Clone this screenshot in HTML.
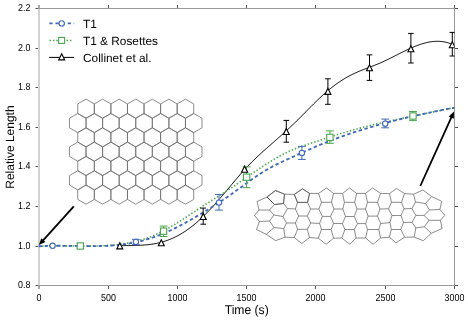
<!DOCTYPE html><html><head><meta charset="utf-8"><style>html,body{margin:0;padding:0;background:#fff;width:468px;height:320px;overflow:hidden}svg{display:block;will-change:transform}text{font-family:"Liberation Sans",sans-serif;text-rendering:geometricPrecision}</style></head><body>
<svg width="468" height="320" viewBox="0 0 468 320">
<path d="M86.03,99.15 L77.76,103.92 L77.76,113.48 L86.03,118.25 L94.31,113.48 L94.31,103.92Z M102.60,99.15 L94.33,103.92 L94.33,113.48 L102.60,118.25 L110.88,113.48 L110.88,103.92Z M119.17,99.15 L110.90,103.92 L110.90,113.48 L119.17,118.25 L127.45,113.48 L127.45,103.92Z M135.75,99.15 L127.47,103.92 L127.47,113.48 L135.75,118.25 L144.02,113.48 L144.02,103.92Z M152.31,99.15 L144.04,103.92 L144.04,113.48 L152.31,118.25 L160.59,113.48 L160.59,103.92Z M168.88,99.15 L160.61,103.92 L160.61,113.48 L168.88,118.25 L177.16,113.48 L177.16,103.92Z M185.45,99.15 L177.18,103.92 L177.18,113.48 L185.45,118.25 L193.73,113.48 L193.73,103.92Z M77.75,113.48 L69.48,118.25 L69.48,127.80 L77.75,132.58 L86.02,127.80 L86.02,118.25Z M94.32,113.48 L86.05,118.25 L86.05,127.80 L94.32,132.58 L102.59,127.80 L102.59,118.25Z M110.89,113.48 L102.62,118.25 L102.62,127.80 L110.89,132.58 L119.16,127.80 L119.16,118.25Z M127.46,113.48 L119.19,118.25 L119.19,127.80 L127.46,132.58 L135.73,127.80 L135.73,118.25Z M144.03,113.48 L135.76,118.25 L135.76,127.80 L144.03,132.58 L152.30,127.80 L152.30,118.25Z M160.60,113.48 L152.33,118.25 L152.33,127.80 L160.60,132.58 L168.87,127.80 L168.87,118.25Z M177.17,113.48 L168.90,118.25 L168.90,127.80 L177.17,132.58 L185.44,127.80 L185.44,118.25Z M193.74,113.48 L185.47,118.25 L185.47,127.80 L193.74,132.58 L202.01,127.80 L202.01,118.25Z M86.03,127.80 L77.76,132.57 L77.76,142.12 L86.03,146.90 L94.31,142.12 L94.31,132.57Z M102.60,127.80 L94.33,132.57 L94.33,142.12 L102.60,146.90 L110.88,142.12 L110.88,132.57Z M119.17,127.80 L110.90,132.57 L110.90,142.12 L119.17,146.90 L127.45,142.12 L127.45,132.57Z M135.75,127.80 L127.47,132.57 L127.47,142.12 L135.75,146.90 L144.02,142.12 L144.02,132.57Z M152.31,127.80 L144.04,132.57 L144.04,142.12 L152.31,146.90 L160.59,142.12 L160.59,132.57Z M168.88,127.80 L160.61,132.57 L160.61,142.12 L168.88,146.90 L177.16,142.12 L177.16,132.57Z M185.45,127.80 L177.18,132.57 L177.18,142.12 L185.45,146.90 L193.73,142.12 L193.73,132.57Z M77.75,142.12 L69.48,146.90 L69.48,156.45 L77.75,161.23 L86.02,156.45 L86.02,146.90Z M94.32,142.12 L86.05,146.90 L86.05,156.45 L94.32,161.23 L102.59,156.45 L102.59,146.90Z M110.89,142.12 L102.62,146.90 L102.62,156.45 L110.89,161.23 L119.16,156.45 L119.16,146.90Z M127.46,142.12 L119.19,146.90 L119.19,156.45 L127.46,161.23 L135.73,156.45 L135.73,146.90Z M144.03,142.12 L135.76,146.90 L135.76,156.45 L144.03,161.23 L152.30,156.45 L152.30,146.90Z M160.60,142.12 L152.33,146.90 L152.33,156.45 L160.60,161.23 L168.87,156.45 L168.87,146.90Z M177.17,142.12 L168.90,146.90 L168.90,156.45 L177.17,161.23 L185.44,156.45 L185.44,146.90Z M193.74,142.12 L185.47,146.90 L185.47,156.45 L193.74,161.23 L202.01,156.45 L202.01,146.90Z M86.03,156.45 L77.76,161.22 L77.76,170.78 L86.03,175.55 L94.31,170.78 L94.31,161.22Z M102.60,156.45 L94.33,161.22 L94.33,170.78 L102.60,175.55 L110.88,170.78 L110.88,161.22Z M119.17,156.45 L110.90,161.22 L110.90,170.78 L119.17,175.55 L127.45,170.78 L127.45,161.22Z M135.75,156.45 L127.47,161.22 L127.47,170.78 L135.75,175.55 L144.02,170.78 L144.02,161.22Z M152.31,156.45 L144.04,161.22 L144.04,170.78 L152.31,175.55 L160.59,170.78 L160.59,161.22Z M168.88,156.45 L160.61,161.22 L160.61,170.78 L168.88,175.55 L177.16,170.78 L177.16,161.22Z M185.45,156.45 L177.18,161.22 L177.18,170.78 L185.45,175.55 L193.73,170.78 L193.73,161.22Z M77.75,170.77 L69.48,175.55 L69.48,185.10 L77.75,189.88 L86.02,185.10 L86.02,175.55Z M94.32,170.77 L86.05,175.55 L86.05,185.10 L94.32,189.88 L102.59,185.10 L102.59,175.55Z M110.89,170.77 L102.62,175.55 L102.62,185.10 L110.89,189.88 L119.16,185.10 L119.16,175.55Z M127.46,170.77 L119.19,175.55 L119.19,185.10 L127.46,189.88 L135.73,185.10 L135.73,175.55Z M144.03,170.77 L135.76,175.55 L135.76,185.10 L144.03,189.88 L152.30,185.10 L152.30,175.55Z M160.60,170.77 L152.33,175.55 L152.33,185.10 L160.60,189.88 L168.87,185.10 L168.87,175.55Z M177.17,170.77 L168.90,175.55 L168.90,185.10 L177.17,189.88 L185.44,185.10 L185.44,175.55Z M193.74,170.77 L185.47,175.55 L185.47,185.10 L193.74,189.88 L202.01,185.10 L202.01,175.55Z M86.03,185.10 L77.76,189.88 L77.76,199.43 L86.03,204.20 L94.31,199.43 L94.31,189.88Z M102.60,185.10 L94.33,189.88 L94.33,199.43 L102.60,204.20 L110.88,199.43 L110.88,189.88Z M119.17,185.10 L110.90,189.88 L110.90,199.43 L119.17,204.20 L127.45,199.43 L127.45,189.88Z M135.75,185.10 L127.47,189.88 L127.47,199.43 L135.75,204.20 L144.02,199.43 L144.02,189.88Z M152.31,185.10 L144.04,189.88 L144.04,199.43 L152.31,204.20 L160.59,199.43 L160.59,189.88Z M168.88,185.10 L160.61,189.88 L160.61,199.43 L168.88,204.20 L177.16,199.43 L177.16,189.88Z M185.45,185.10 L177.18,189.88 L177.18,199.43 L185.45,204.20 L193.73,199.43 L193.73,189.88Z" fill="none" stroke="#707070" stroke-width="0.8"/>
<path d="M302.5,188.8L294.3,194.4 M302.5,188.8L309.6,193.4 M294.3,194.4L297.5,202.4 M309.6,193.4L307.5,202.4 M297.5,202.4L295.4,209.0 M307.5,202.4L310.6,209.0 M295.4,209.0L298.7,216.0 M310.6,209.0L307.4,216.0 M298.7,216.0L295.4,223.0 M307.4,216.0L310.7,223.0 M295.4,223.0L297.6,229.3 M310.7,223.0L307.4,229.3 M297.6,229.3L294.3,237.6 M307.4,229.3L309.4,237.6 M297.5,202.4L307.5,202.4 M298.7,216.0L307.4,216.0 M297.6,229.3L307.4,229.3 M294.3,237.6L301.8,243.5 M309.4,237.6L301.8,243.5 M326.5,188.0L318.5,193.4 M326.5,188.0L333.5,193.4 M318.5,193.4L321.5,202.3 M333.5,193.4L331.5,202.3 M321.5,202.3L318.8,209.0 M331.5,202.3L334.0,209.0 M318.8,209.0L322.3,216.4 M334.0,209.0L330.5,216.4 M322.3,216.4L319.6,223.4 M330.5,216.4L333.6,223.4 M319.6,223.4L321.5,229.5 M333.6,223.4L331.1,229.5 M321.5,229.5L318.3,238.2 M331.1,229.5L333.6,238.2 M321.5,202.3L331.5,202.3 M322.3,216.4L330.5,216.4 M321.5,229.5L331.1,229.5 M318.3,238.2L326.1,244.3 M333.6,238.2L326.1,244.3 M349.6,187.9L342.6,193.4 M349.6,187.9L356.6,193.4 M342.6,193.4L344.4,202.3 M356.6,193.4L354.7,202.3 M344.4,202.3L342.8,209.0 M354.7,202.3L357.0,209.0 M342.8,209.0L345.5,216.5 M357.0,209.0L354.3,216.5 M345.5,216.5L342.4,223.6 M354.3,216.5L357.4,223.6 M342.4,223.6L344.9,229.5 M357.4,223.6L354.3,229.5 M344.9,229.5L341.8,238.0 M354.3,229.5L356.1,238.0 M344.4,202.3L354.7,202.3 M345.5,216.5L354.3,216.5 M344.9,229.5L354.3,229.5 M341.8,238.0L349.9,244.3 M356.1,238.0L349.9,244.3 M372.5,187.9L365.5,193.4 M372.5,187.9L380.5,193.4 M365.5,193.4L367.5,202.3 M380.5,193.4L377.5,202.3 M367.5,202.3L365.5,209.0 M377.5,202.3L380.0,209.0 M365.5,209.0L368.1,216.1 M380.0,209.0L377.5,216.1 M368.1,216.1L365.6,223.6 M377.5,216.1L380.6,223.6 M365.6,223.6L367.5,229.5 M380.6,223.6L378.8,229.5 M367.5,229.5L365.6,238.0 M378.8,229.5L380.6,238.0 M367.5,202.3L377.5,202.3 M368.1,216.1L377.5,216.1 M367.5,229.5L378.8,229.5 M365.6,238.0L373.1,244.3 M380.6,238.0L373.1,244.3 M396.5,188.4L389.5,193.6 M396.5,188.4L404.5,193.6 M389.5,193.6L391.5,202.3 M404.5,193.6L401.5,202.3 M391.5,202.3L388.5,208.8 M401.5,202.3L404.0,208.8 M388.5,208.8L391.9,215.5 M404.0,208.8L401.0,215.5 M391.9,215.5L390.0,222.5 M401.0,215.5L403.5,222.5 M390.0,222.5L391.3,229.5 M403.5,222.5L400.9,229.5 M391.3,229.5L389.4,237.2 M400.9,229.5L404.6,237.2 M391.5,202.3L401.5,202.3 M391.9,215.5L401.0,215.5 M391.3,229.5L400.9,229.5 M389.4,237.2L396.0,242.8 M404.6,237.2L396.0,242.8 M309.6,193.4L318.5,193.4 M310.6,209.0L318.8,209.0 M310.7,223.0L319.6,223.4 M309.4,237.6L318.3,238.2 M333.5,193.4L342.6,193.4 M334.0,209.0L342.8,209.0 M333.6,223.4L342.4,223.6 M333.6,238.2L341.8,238.0 M356.6,193.4L365.5,193.4 M357.0,209.0L365.5,209.0 M357.4,223.6L365.6,223.6 M356.1,238.0L365.6,238.0 M380.5,193.4L389.5,193.6 M380.0,209.0L388.5,208.8 M380.6,223.6L390.0,222.5 M380.6,238.0L389.4,237.2 M257.0,201.5L267.0,197.0 M267.0,197.0L275.5,190.5 M275.5,190.5L284.5,194.2 M284.5,194.2L294.3,194.4 M267.0,197.0L274.5,204.5 M274.5,204.5L283.5,203.5 M284.5,194.2L283.5,203.5 M283.5,203.5L287.5,208.5 M287.5,208.5L295.4,209.0 M274.5,204.5L269.5,210.0 M269.5,210.0L259.0,210.0 M259.0,210.0L257.0,201.5 M259.0,210.0L254.5,215.5 M254.5,215.5L259.5,221.5 M269.5,210.0L274.0,215.0 M274.0,215.0L283.0,216.5 M287.5,208.5L283.0,216.5 M283.0,216.5L286.5,223.0 M286.5,223.0L295.4,223.0 M274.0,215.0L269.5,221.0 M259.5,221.5L269.5,221.0 M269.5,221.0L274.0,227.5 M286.5,223.0L283.8,228.6 M274.0,227.5L283.8,228.6 M283.8,228.6L285.0,237.2 M285.0,237.2L294.3,237.6 M274.0,227.5L266.3,234.3 M259.5,221.5L256.5,229.5 M256.5,229.5L266.3,234.3 M266.3,234.3L275.5,240.7 M275.5,240.7L285.0,237.2 M404.5,193.6L413.5,194.2 M413.5,194.2L423.0,190.0 M423.0,190.0L431.6,196.5 M413.5,194.2L415.5,202.0 M415.5,202.0L425.5,203.5 M431.6,196.5L425.5,203.5 M415.5,202.0L412.0,208.6 M404.0,208.8L412.0,208.6 M425.5,203.5L429.5,210.0 M412.0,208.6L415.8,215.4 M429.5,210.0L424.0,215.4 M415.8,215.4L424.0,215.4 M415.8,215.4L412.1,222.3 M403.5,222.5L412.1,222.3 M424.0,215.4L429.0,220.3 M412.1,222.3L415.8,227.9 M429.0,220.3L424.4,226.8 M415.8,227.9L424.4,226.8 M415.8,227.9L414.2,237.1 M404.6,237.2L414.2,237.1 M424.4,226.8L431.3,233.3 M414.2,237.1L423.3,240.7 M423.3,240.7L431.3,233.3 M431.6,196.5L441.7,201.3 M441.7,201.3L439.9,209.4 M429.5,210.0L439.9,209.4 M439.9,209.4L444.8,215.4 M444.8,215.4L440.4,220.3 M429.0,220.3L440.4,220.3 M440.4,220.3L442.1,228.5 M431.3,233.3L442.1,228.5" fill="none" stroke="#5a5a5a" stroke-width="0.7" stroke-linejoin="round"/>
<path d="M302.5,188.8L294.3,194.4 M302.5,188.8L309.6,193.4 M294.3,194.4L297.5,202.4 M309.6,193.4L307.5,202.4 M297.5,202.4L307.5,202.4 M267.0,197.0L275.5,190.5 M275.5,190.5L284.5,194.2 M284.5,194.2L283.5,203.5 M283.5,203.5L274.5,204.5" fill="none" stroke="#505050" stroke-width="0.7" stroke-linejoin="round"/>
<path d="M267.0,197.0L274.5,204.5" fill="none" stroke="#333" stroke-width="0.8"/>
<rect x="38" y="8" width="2" height="278" fill="#d2d2d2"/>
<line x1="38" y1="8.5" x2="455" y2="8.5" stroke="#9a9a9a" stroke-width="1"/>
<line x1="38" y1="285.5" x2="455" y2="285.5" stroke="#9a9a9a" stroke-width="1"/>
<line x1="454.5" y1="8" x2="454.5" y2="286" stroke="#9a9a9a" stroke-width="1"/>
<path d="M35.5,285.5 H38 M455,285.5 H458 M35.5,246.5 H38 M455,246.5 H458 M35.5,206.5 H38 M455,206.5 H458 M35.5,166.5 H38 M455,166.5 H458 M35.5,127.5 H38 M455,127.5 H458 M35.5,87.5 H38 M455,87.5 H458 M35.5,48.5 H38 M455,48.5 H458 M35.5,8.5 H38 M455,8.5 H458 M39.0,286 V289 M39.0,8 V5 M108.5,286 V289 M108.5,8 V5 M177.5,286 V289 M177.5,8 V5 M246.5,286 V289 M246.5,8 V5 M315.5,286 V289 M315.5,8 V5 M385.5,286 V289 M385.5,8 V5 M454.5,286 V289 M454.5,8 V5" stroke="#555" stroke-width="1" fill="none"/>
<text transform="translate(30.5,288.40) scale(0.882,1)" font-size="10.10" text-anchor="end" fill="#000">0.8</text>
<text transform="translate(30.5,249.40) scale(0.882,1)" font-size="10.10" text-anchor="end" fill="#000">1.0</text>
<text transform="translate(30.5,209.40) scale(0.882,1)" font-size="10.10" text-anchor="end" fill="#000">1.2</text>
<text transform="translate(30.5,169.40) scale(0.882,1)" font-size="10.10" text-anchor="end" fill="#000">1.4</text>
<text transform="translate(30.5,130.40) scale(0.882,1)" font-size="10.10" text-anchor="end" fill="#000">1.6</text>
<text transform="translate(30.5,90.40) scale(0.882,1)" font-size="10.10" text-anchor="end" fill="#000">1.8</text>
<text transform="translate(30.5,51.40) scale(0.882,1)" font-size="10.10" text-anchor="end" fill="#000">2.0</text>
<text transform="translate(30.5,11.40) scale(0.882,1)" font-size="10.10" text-anchor="end" fill="#000">2.2</text>
<text transform="translate(38.90,300.60) scale(0.882,1)" font-size="10.10" text-anchor="middle" fill="#000">0</text>
<text transform="translate(108.50,300.60) scale(0.882,1)" font-size="10.10" text-anchor="middle" fill="#000">500</text>
<text transform="translate(177.50,300.60) scale(0.882,1)" font-size="10.10" text-anchor="middle" fill="#000">1000</text>
<text transform="translate(246.50,300.60) scale(0.882,1)" font-size="10.10" text-anchor="middle" fill="#000">1500</text>
<text transform="translate(315.50,300.60) scale(0.882,1)" font-size="10.10" text-anchor="middle" fill="#000">2000</text>
<text transform="translate(385.50,300.60) scale(0.882,1)" font-size="10.10" text-anchor="middle" fill="#000">2500</text>
<text transform="translate(454.50,300.60) scale(0.882,1)" font-size="10.10" text-anchor="middle" fill="#000">3000</text>
<text transform="translate(246.7,313.6) scale(0.964,1)" font-size="12.6" text-anchor="middle" fill="#000">Time (s)</text>
<text transform="translate(13.5,147.1) rotate(-90)" x="0" y="0" font-size="12.0" text-anchor="middle" fill="#000">Relative Length</text>
<line x1="73.80" y1="206.30" x2="42.65" y2="240.84" stroke="#000" stroke-width="1.80"/><path d="M38.90,245.00 L41.24,238.22 L45.40,241.97 Z" fill="#000"/>
<line x1="420.30" y1="186.00" x2="451.69" y2="116.70" stroke="#000" stroke-width="1.80"/><path d="M454.00,111.60 L453.83,118.77 L448.73,116.46 Z" fill="#000"/>
<defs><clipPath id="pc"><rect x="36" y="0" width="418.6" height="290"/></clipPath></defs><g clip-path="url(#pc)">
<path d="M119.80,245.70 L120.80,245.67 L121.80,245.65 L122.80,245.63 L123.80,245.61 L124.80,245.59 L125.80,245.58 L126.80,245.56 L127.80,245.55 L128.80,245.53 L129.80,245.52 L130.80,245.51 L131.80,245.49 L132.80,245.47 L133.80,245.45 L134.80,245.43 L135.80,245.41 L136.80,245.38 L137.80,245.34 L138.80,245.31 L139.80,245.27 L140.80,245.22 L141.80,245.16 L142.80,245.10 L143.80,245.04 L144.80,244.96 L145.80,244.88 L146.80,244.79 L147.80,244.69 L148.80,244.58 L149.80,244.47 L150.80,244.34 L151.80,244.20 L152.80,244.05 L153.80,243.89 L154.80,243.72 L155.80,243.53 L156.80,243.34 L157.80,243.12 L158.80,242.90 L159.80,242.66 L160.80,242.41 L161.80,242.14 L162.80,241.85 L163.80,241.55 L164.80,241.23 L165.80,240.90 L166.80,240.55 L167.80,240.19 L168.80,239.81 L169.80,239.41 L170.80,239.00 L171.80,238.57 L172.80,238.13 L173.80,237.67 L174.80,237.19 L175.80,236.70 L176.80,236.19 L177.80,235.66 L178.80,235.11 L179.80,234.55 L180.80,233.97 L181.80,233.38 L182.80,232.77 L183.80,232.14 L184.80,231.49 L185.80,230.83 L186.80,230.14 L187.80,229.44 L188.80,228.73 L189.80,227.99 L190.80,227.24 L191.80,226.47 L192.80,225.68 L193.80,224.88 L194.80,224.05 L195.80,223.21 L196.80,222.35 L197.80,221.47 L198.80,220.57 L199.80,219.66 L200.80,218.73 L201.80,217.78 L202.80,216.82 L203.80,215.84 L204.80,214.85 L205.80,213.85 L206.80,212.83 L207.80,211.80 L208.80,210.75 L209.80,209.70 L210.80,208.63 L211.80,207.55 L212.80,206.46 L213.80,205.36 L214.80,204.25 L215.80,203.13 L216.80,202.00 L217.80,200.87 L218.80,199.72 L219.80,198.57 L220.80,197.41 L221.80,196.25 L222.80,195.08 L223.80,193.91 L224.80,192.73 L225.80,191.54 L226.80,190.36 L227.80,189.16 L228.80,187.97 L229.80,186.78 L230.80,185.58 L231.80,184.38 L232.80,183.19 L233.80,182.00 L234.80,180.81 L235.80,179.62 L236.80,178.44 L237.80,177.27 L238.80,176.10 L239.80,174.94 L240.80,173.79 L241.80,172.66 L242.80,171.53 L243.80,170.42 L244.80,169.32 L245.80,168.24 L246.80,167.17 L247.80,166.12 L248.80,165.08 L249.80,164.06 L250.80,163.04 L251.80,162.04 L252.80,161.06 L253.80,160.08 L254.80,159.11 L255.80,158.15 L256.80,157.21 L257.80,156.27 L258.80,155.33 L259.80,154.41 L260.80,153.49 L261.80,152.58 L262.80,151.68 L263.80,150.78 L264.80,149.89 L265.80,148.99 L266.80,148.11 L267.80,147.22 L268.80,146.34 L269.80,145.46 L270.80,144.58 L271.80,143.70 L272.80,142.83 L273.80,141.95 L274.80,141.07 L275.80,140.19 L276.80,139.31 L277.80,138.43 L278.80,137.54 L279.80,136.66 L280.80,135.77 L281.80,134.88 L282.80,133.98 L283.80,133.08 L284.80,132.18 L285.80,131.27 L286.80,130.35 L287.80,129.43 L288.80,128.51 L289.80,127.58 L290.80,126.64 L291.80,125.69 L292.80,124.74 L293.80,123.78 L294.80,122.81 L295.80,121.84 L296.80,120.85 L297.80,119.86 L298.80,118.87 L299.80,117.87 L300.80,116.86 L301.80,115.86 L302.80,114.84 L303.80,113.83 L304.80,112.82 L305.80,111.80 L306.80,110.79 L307.80,109.77 L308.80,108.76 L309.80,107.75 L310.80,106.74 L311.80,105.74 L312.80,104.74 L313.80,103.74 L314.80,102.75 L315.80,101.77 L316.80,100.80 L317.80,99.83 L318.80,98.87 L319.80,97.92 L320.80,96.99 L321.80,96.06 L322.80,95.14 L323.80,94.24 L324.80,93.35 L325.80,92.47 L326.80,91.61 L327.80,90.76 L328.80,89.92 L329.80,89.10 L330.80,88.29 L331.80,87.49 L332.80,86.71 L333.80,85.94 L334.80,85.19 L335.80,84.45 L336.80,83.72 L337.80,83.01 L338.80,82.32 L339.80,81.64 L340.80,80.97 L341.80,80.32 L342.80,79.68 L343.80,79.06 L344.80,78.45 L345.80,77.86 L346.80,77.29 L347.80,76.73 L348.80,76.19 L349.80,75.66 L350.80,75.15 L351.80,74.65 L352.80,74.16 L353.80,73.69 L354.80,73.22 L355.80,72.77 L356.80,72.33 L357.80,71.90 L358.80,71.47 L359.80,71.06 L360.80,70.65 L361.80,70.24 L362.80,69.84 L363.80,69.45 L364.80,69.06 L365.80,68.67 L366.80,68.29 L367.80,67.91 L368.80,67.52 L369.80,67.14 L370.80,66.76 L371.80,66.37 L372.80,65.99 L373.80,65.60 L374.80,65.20 L375.80,64.81 L376.80,64.40 L377.80,63.99 L378.80,63.58 L379.80,63.15 L380.80,62.72 L381.80,62.28 L382.80,61.83 L383.80,61.37 L384.80,60.90 L385.80,60.43 L386.80,59.95 L387.80,59.47 L388.80,58.98 L389.80,58.48 L390.80,57.99 L391.80,57.49 L392.80,56.98 L393.80,56.48 L394.80,55.97 L395.80,55.46 L396.80,54.95 L397.80,54.45 L398.80,53.94 L399.80,53.43 L400.80,52.93 L401.80,52.43 L402.80,51.94 L403.80,51.44 L404.80,50.95 L405.80,50.47 L406.80,49.99 L407.80,49.52 L408.80,49.06 L409.80,48.60 L410.80,48.15 L411.80,47.71 L412.80,47.28 L413.80,46.86 L414.80,46.45 L415.80,46.05 L416.80,45.67 L417.80,45.29 L418.80,44.93 L419.80,44.58 L420.80,44.25 L421.80,43.93 L422.80,43.62 L423.80,43.33 L424.80,43.06 L425.80,42.81 L426.80,42.57 L427.80,42.35 L428.80,42.15 L429.80,41.97 L430.80,41.81 L431.80,41.67 L432.80,41.55 L433.80,41.46 L434.80,41.38 L435.80,41.33 L436.80,41.30 L437.80,41.30 L438.80,41.32 L439.80,41.37 L440.80,41.44 L441.80,41.54 L442.80,41.67 L443.80,41.83 L444.80,42.01 L445.80,42.22 L446.80,42.46 L447.80,42.74 L448.80,43.04 L449.80,43.38 L450.80,43.74 L451.80,44.14 L452.30,44.35" fill="none" stroke="#000" stroke-width="1"/>
<path d="M38.75,246.31 L39.75,246.24 L40.75,246.19 L41.75,246.14 L42.75,246.09 L43.75,246.04 L44.75,246.00 L45.75,245.97 L46.75,245.94 L47.75,245.91 L48.75,245.88 L49.75,245.86 L50.75,245.84 L51.75,245.83 L52.75,245.81 L53.75,245.80 L54.75,245.79 L55.75,245.79 L56.75,245.79 L57.75,245.79 L58.75,245.79 L59.75,245.79 L60.75,245.80 L61.75,245.80 L62.75,245.81 L63.75,245.82 L64.75,245.83 L65.75,245.84 L66.75,245.86 L67.75,245.87 L68.75,245.89 L69.75,245.90 L70.75,245.92 L71.75,245.93 L72.75,245.95 L73.75,245.97 L74.75,245.98 L75.75,246.00 L76.75,246.01 L77.75,246.03 L78.75,246.04 L79.75,246.06 L80.75,246.07 L81.75,246.08 L82.75,246.09 L83.75,246.10 L84.75,246.11 L85.75,246.12 L86.75,246.12 L87.75,246.12 L88.75,246.12 L89.75,246.12 L90.75,246.12 L91.75,246.11 L92.75,246.10 L93.75,246.09 L94.75,246.08 L95.75,246.06 L96.75,246.04 L97.75,246.02 L98.75,245.99 L99.75,245.96 L100.75,245.93 L101.75,245.89 L102.75,245.85 L103.75,245.80 L104.75,245.75 L105.75,245.70 L106.75,245.64 L107.75,245.58 L108.75,245.51 L109.75,245.44 L110.75,245.36 L111.75,245.28 L112.75,245.19 L113.75,245.10 L114.75,245.00 L115.75,244.90 L116.75,244.79 L117.75,244.67 L118.75,244.55 L119.75,244.42 L120.75,244.29 L121.75,244.15 L122.75,244.00 L123.75,243.84 L124.75,243.68 L125.75,243.52 L126.75,243.34 L127.75,243.16 L128.75,242.97 L129.75,242.77 L130.75,242.57 L131.75,242.35 L132.75,242.13 L133.75,241.90 L134.75,241.67 L135.75,241.42 L136.75,241.17 L137.75,240.90 L138.75,240.63 L139.75,240.35 L140.75,240.06 L141.75,239.77 L142.75,239.46 L143.75,239.14 L144.75,238.81 L145.75,238.48 L146.75,238.13 L147.75,237.78 L148.75,237.41 L149.75,237.03 L150.75,236.65 L151.75,236.25 L152.75,235.84 L153.75,235.42 L154.75,234.99 L155.75,234.55 L156.75,234.10 L157.75,233.64 L158.75,233.16 L159.75,232.68 L160.75,232.19 L161.75,231.68 L162.75,231.17 L163.75,230.65 L164.75,230.11 L165.75,229.57 L166.75,229.03 L167.75,228.47 L168.75,227.91 L169.75,227.33 L170.75,226.76 L171.75,226.17 L172.75,225.58 L173.75,224.98 L174.75,224.37 L175.75,223.76 L176.75,223.15 L177.75,222.53 L178.75,221.90 L179.75,221.27 L180.75,220.64 L181.75,220.00 L182.75,219.36 L183.75,218.71 L184.75,218.06 L185.75,217.41 L186.75,216.76 L187.75,216.10 L188.75,215.45 L189.75,214.79 L190.75,214.13 L191.75,213.46 L192.75,212.80 L193.75,212.14 L194.75,211.48 L195.75,210.81 L196.75,210.15 L197.75,209.49 L198.75,208.83 L199.75,208.17 L200.75,207.51 L201.75,206.85 L202.75,206.20 L203.75,205.54 L204.75,204.89 L205.75,204.25 L206.75,203.60 L207.75,202.96 L208.75,202.32 L209.75,201.69 L210.75,201.05 L211.75,200.42 L212.75,199.79 L213.75,199.16 L214.75,198.53 L215.75,197.90 L216.75,197.27 L217.75,196.64 L218.75,196.01 L219.75,195.38 L220.75,194.75 L221.75,194.11 L222.75,193.47 L223.75,192.83 L224.75,192.19 L225.75,191.55 L226.75,190.90 L227.75,190.24 L228.75,189.59 L229.75,188.93 L230.75,188.26 L231.75,187.59 L232.75,186.92 L233.75,186.25 L234.75,185.57 L235.75,184.89 L236.75,184.21 L237.75,183.52 L238.75,182.83 L239.75,182.15 L240.75,181.46 L241.75,180.76 L242.75,180.07 L243.75,179.38 L244.75,178.69 L245.75,177.99 L246.75,177.30 L247.75,176.61 L248.75,175.92 L249.75,175.23 L250.75,174.54 L251.75,173.85 L252.75,173.16 L253.75,172.47 L254.75,171.79 L255.75,171.11 L256.75,170.43 L257.75,169.75 L258.75,169.08 L259.75,168.41 L260.75,167.75 L261.75,167.08 L262.75,166.42 L263.75,165.77 L264.75,165.12 L265.75,164.47 L266.75,163.83 L267.75,163.20 L268.75,162.57 L269.75,161.95 L270.75,161.33 L271.75,160.72 L272.75,160.11 L273.75,159.51 L274.75,158.92 L275.75,158.34 L276.75,157.76 L277.75,157.19 L278.75,156.63 L279.75,156.08 L280.75,155.53 L281.75,155.00 L282.75,154.47 L283.75,153.95 L284.75,153.45 L285.75,152.95 L286.75,152.46 L287.75,151.99 L288.75,151.52 L289.75,151.06 L290.75,150.62 L291.75,150.19 L292.75,149.77 L293.75,149.35 L294.75,148.95 L295.75,148.56 L296.75,148.17 L297.75,147.80 L298.75,147.43 L299.75,147.06 L300.75,146.71 L301.75,146.36 L302.75,146.01 L303.75,145.67 L304.75,145.33 L305.75,145.00 L306.75,144.66 L307.75,144.33 L308.75,144.01 L309.75,143.68 L310.75,143.35 L311.75,143.03 L312.75,142.70 L313.75,142.37 L314.75,142.04 L315.75,141.71 L316.75,141.38 L317.75,141.05 L318.75,140.72 L319.75,140.39 L320.75,140.06 L321.75,139.73 L322.75,139.40 L323.75,139.08 L324.75,138.75 L325.75,138.42 L326.75,138.09 L327.75,137.76 L328.75,137.44 L329.75,137.11 L330.75,136.79 L331.75,136.46 L332.75,136.14 L333.75,135.82 L334.75,135.50 L335.75,135.18 L336.75,134.87 L337.75,134.55 L338.75,134.24 L339.75,133.92 L340.75,133.61 L341.75,133.31 L342.75,133.00 L343.75,132.70 L344.75,132.39 L345.75,132.09 L346.75,131.80 L347.75,131.50 L348.75,131.21 L349.75,130.92 L350.75,130.63 L351.75,130.35 L352.75,130.06 L353.75,129.78 L354.75,129.50 L355.75,129.23 L356.75,128.95 L357.75,128.68 L358.75,128.41 L359.75,128.14 L360.75,127.88 L361.75,127.61 L362.75,127.35 L363.75,127.09 L364.75,126.84 L365.75,126.58 L366.75,126.33 L367.75,126.07 L368.75,125.82 L369.75,125.57 L370.75,125.33 L371.75,125.08 L372.75,124.84 L373.75,124.60 L374.75,124.36 L375.75,124.12 L376.75,123.88 L377.75,123.65 L378.75,123.41 L379.75,123.18 L380.75,122.95 L381.75,122.72 L382.75,122.49 L383.75,122.26 L384.75,122.04 L385.75,121.81 L386.75,121.59 L387.75,121.37 L388.75,121.15 L389.75,120.93 L390.75,120.71 L391.75,120.49 L392.75,120.27 L393.75,120.06 L394.75,119.84 L395.75,119.63 L396.75,119.42 L397.75,119.20 L398.75,118.99 L399.75,118.78 L400.75,118.57 L401.75,118.36 L402.75,118.15 L403.75,117.95 L404.75,117.74 L405.75,117.53 L406.75,117.33 L407.75,117.12 L408.75,116.92 L409.75,116.71 L410.75,116.51 L411.75,116.30 L412.75,116.10 L413.75,115.90 L414.75,115.69 L415.75,115.49 L416.75,115.29 L417.75,115.09 L418.75,114.89 L419.75,114.68 L420.75,114.48 L421.75,114.28 L422.75,114.08 L423.75,113.88 L424.75,113.67 L425.75,113.47 L426.75,113.27 L427.75,113.07 L428.75,112.87 L429.75,112.66 L430.75,112.46 L431.75,112.26 L432.75,112.06 L433.75,111.85 L434.75,111.65 L435.75,111.44 L436.75,111.24 L437.75,111.03 L438.75,110.83 L439.75,110.62 L440.75,110.42 L441.75,110.21 L442.75,110.00 L443.75,109.79 L444.75,109.58 L445.75,109.37 L446.75,109.16 L447.75,108.95 L448.75,108.74 L449.75,108.52 L450.75,108.31 L451.75,108.09 L452.75,107.88 L453.75,107.66 L454.70,107.45" fill="none" stroke="#4aa64e" stroke-width="1.6" stroke-dasharray="1.4 2.0"/>
<path d="M38.75,246.33 L39.75,246.27 L40.75,246.21 L41.75,246.15 L42.75,246.11 L43.75,246.06 L44.75,246.02 L45.75,245.98 L46.75,245.94 L47.75,245.91 L48.75,245.89 L49.75,245.86 L50.75,245.84 L51.75,245.82 L52.75,245.81 L53.75,245.79 L54.75,245.78 L55.75,245.77 L56.75,245.77 L57.75,245.77 L58.75,245.77 L59.75,245.77 L60.75,245.77 L61.75,245.77 L62.75,245.78 L63.75,245.79 L64.75,245.80 L65.75,245.81 L66.75,245.82 L67.75,245.83 L68.75,245.85 L69.75,245.86 L70.75,245.88 L71.75,245.89 L72.75,245.91 L73.75,245.92 L74.75,245.94 L75.75,245.96 L76.75,245.97 L77.75,245.99 L78.75,246.00 L79.75,246.02 L80.75,246.03 L81.75,246.05 L82.75,246.06 L83.75,246.07 L84.75,246.08 L85.75,246.09 L86.75,246.10 L87.75,246.11 L88.75,246.11 L89.75,246.11 L90.75,246.12 L91.75,246.11 L92.75,246.11 L93.75,246.11 L94.75,246.10 L95.75,246.09 L96.75,246.08 L97.75,246.06 L98.75,246.04 L99.75,246.02 L100.75,246.00 L101.75,245.97 L102.75,245.94 L103.75,245.91 L104.75,245.87 L105.75,245.83 L106.75,245.78 L107.75,245.74 L108.75,245.68 L109.75,245.62 L110.75,245.56 L111.75,245.50 L112.75,245.43 L113.75,245.35 L114.75,245.27 L115.75,245.18 L116.75,245.09 L117.75,245.00 L118.75,244.90 L119.75,244.79 L120.75,244.68 L121.75,244.56 L122.75,244.44 L123.75,244.31 L124.75,244.17 L125.75,244.03 L126.75,243.88 L127.75,243.73 L128.75,243.56 L129.75,243.40 L130.75,243.22 L131.75,243.04 L132.75,242.85 L133.75,242.66 L134.75,242.45 L135.75,242.24 L136.75,242.02 L137.75,241.80 L138.75,241.56 L139.75,241.32 L140.75,241.07 L141.75,240.82 L142.75,240.55 L143.75,240.28 L144.75,240.00 L145.75,239.72 L146.75,239.43 L147.75,239.13 L148.75,238.82 L149.75,238.50 L150.75,238.18 L151.75,237.85 L152.75,237.52 L153.75,237.17 L154.75,236.82 L155.75,236.47 L156.75,236.10 L157.75,235.73 L158.75,235.35 L159.75,234.97 L160.75,234.57 L161.75,234.17 L162.75,233.77 L163.75,233.35 L164.75,232.93 L165.75,232.51 L166.75,232.07 L167.75,231.63 L168.75,231.19 L169.75,230.73 L170.75,230.27 L171.75,229.81 L172.75,229.33 L173.75,228.85 L174.75,228.37 L175.75,227.87 L176.75,227.37 L177.75,226.87 L178.75,226.35 L179.75,225.84 L180.75,225.31 L181.75,224.78 L182.75,224.24 L183.75,223.70 L184.75,223.15 L185.75,222.60 L186.75,222.04 L187.75,221.48 L188.75,220.91 L189.75,220.34 L190.75,219.77 L191.75,219.19 L192.75,218.61 L193.75,218.02 L194.75,217.44 L195.75,216.85 L196.75,216.26 L197.75,215.66 L198.75,215.07 L199.75,214.47 L200.75,213.87 L201.75,213.27 L202.75,212.67 L203.75,212.07 L204.75,211.47 L205.75,210.86 L206.75,210.26 L207.75,209.65 L208.75,209.03 L209.75,208.42 L210.75,207.80 L211.75,207.18 L212.75,206.56 L213.75,205.94 L214.75,205.31 L215.75,204.67 L216.75,204.04 L217.75,203.40 L218.75,202.75 L219.75,202.10 L220.75,201.45 L221.75,200.79 L222.75,200.12 L223.75,199.45 L224.75,198.78 L225.75,198.10 L226.75,197.42 L227.75,196.73 L228.75,196.03 L229.75,195.33 L230.75,194.63 L231.75,193.92 L232.75,193.21 L233.75,192.49 L234.75,191.77 L235.75,191.05 L236.75,190.33 L237.75,189.61 L238.75,188.88 L239.75,188.15 L240.75,187.42 L241.75,186.69 L242.75,185.96 L243.75,185.23 L244.75,184.50 L245.75,183.77 L246.75,183.05 L247.75,182.33 L248.75,181.61 L249.75,180.89 L250.75,180.18 L251.75,179.48 L252.75,178.78 L253.75,178.09 L254.75,177.40 L255.75,176.72 L256.75,176.04 L257.75,175.38 L258.75,174.72 L259.75,174.06 L260.75,173.42 L261.75,172.78 L262.75,172.15 L263.75,171.53 L264.75,170.92 L265.75,170.32 L266.75,169.73 L267.75,169.15 L268.75,168.57 L269.75,168.01 L270.75,167.46 L271.75,166.92 L272.75,166.39 L273.75,165.86 L274.75,165.35 L275.75,164.84 L276.75,164.34 L277.75,163.85 L278.75,163.36 L279.75,162.88 L280.75,162.41 L281.75,161.94 L282.75,161.47 L283.75,161.01 L284.75,160.55 L285.75,160.09 L286.75,159.64 L287.75,159.18 L288.75,158.73 L289.75,158.28 L290.75,157.83 L291.75,157.38 L292.75,156.92 L293.75,156.47 L294.75,156.01 L295.75,155.56 L296.75,155.10 L297.75,154.64 L298.75,154.19 L299.75,153.73 L300.75,153.27 L301.75,152.82 L302.75,152.36 L303.75,151.91 L304.75,151.46 L305.75,151.00 L306.75,150.55 L307.75,150.11 L308.75,149.66 L309.75,149.21 L310.75,148.77 L311.75,148.33 L312.75,147.90 L313.75,147.46 L314.75,147.03 L315.75,146.61 L316.75,146.18 L317.75,145.76 L318.75,145.34 L319.75,144.93 L320.75,144.52 L321.75,144.11 L322.75,143.70 L323.75,143.30 L324.75,142.90 L325.75,142.50 L326.75,142.10 L327.75,141.71 L328.75,141.32 L329.75,140.94 L330.75,140.55 L331.75,140.17 L332.75,139.79 L333.75,139.41 L334.75,139.04 L335.75,138.67 L336.75,138.30 L337.75,137.94 L338.75,137.57 L339.75,137.21 L340.75,136.85 L341.75,136.50 L342.75,136.14 L343.75,135.79 L344.75,135.44 L345.75,135.09 L346.75,134.75 L347.75,134.41 L348.75,134.07 L349.75,133.73 L350.75,133.39 L351.75,133.06 L352.75,132.73 L353.75,132.40 L354.75,132.07 L355.75,131.75 L356.75,131.43 L357.75,131.10 L358.75,130.79 L359.75,130.47 L360.75,130.15 L361.75,129.84 L362.75,129.53 L363.75,129.22 L364.75,128.91 L365.75,128.61 L366.75,128.30 L367.75,128.00 L368.75,127.70 L369.75,127.40 L370.75,127.11 L371.75,126.81 L372.75,126.52 L373.75,126.23 L374.75,125.94 L375.75,125.66 L376.75,125.37 L377.75,125.09 L378.75,124.81 L379.75,124.53 L380.75,124.25 L381.75,123.97 L382.75,123.70 L383.75,123.42 L384.75,123.15 L385.75,122.88 L386.75,122.61 L387.75,122.35 L388.75,122.08 L389.75,121.82 L390.75,121.56 L391.75,121.30 L392.75,121.04 L393.75,120.78 L394.75,120.53 L395.75,120.28 L396.75,120.02 L397.75,119.77 L398.75,119.52 L399.75,119.28 L400.75,119.03 L401.75,118.79 L402.75,118.54 L403.75,118.30 L404.75,118.06 L405.75,117.82 L406.75,117.59 L407.75,117.35 L408.75,117.12 L409.75,116.89 L410.75,116.65 L411.75,116.42 L412.75,116.20 L413.75,115.97 L414.75,115.74 L415.75,115.52 L416.75,115.29 L417.75,115.07 L418.75,114.85 L419.75,114.63 L420.75,114.42 L421.75,114.20 L422.75,113.98 L423.75,113.77 L424.75,113.56 L425.75,113.34 L426.75,113.13 L427.75,112.92 L428.75,112.72 L429.75,112.51 L430.75,112.30 L431.75,112.10 L432.75,111.90 L433.75,111.69 L434.75,111.49 L435.75,111.29 L436.75,111.09 L437.75,110.90 L438.75,110.70 L439.75,110.50 L440.75,110.31 L441.75,110.11 L442.75,109.92 L443.75,109.73 L444.75,109.54 L445.75,109.35 L446.75,109.16 L447.75,108.97 L448.75,108.79 L449.75,108.60 L450.75,108.42 L451.75,108.23 L452.75,108.05 L453.75,107.87 L454.70,107.70" fill="none" stroke="#3f68b8" stroke-width="1.8" stroke-dasharray="3.4 2.6"/>
<circle cx="52.60" cy="245.80" r="2.65" fill="#fff" stroke="#3f68b8" stroke-width="1.1"/>
<path d="M135.90,239.30 V244.70 M132.00,239.30 H139.80 M132.00,244.70 H139.80" stroke="#3f68b8" stroke-width="1.00" fill="none"/>
<circle cx="135.90" cy="241.90" r="2.65" fill="#fff" stroke="#3f68b8" stroke-width="1.1"/>
<path d="M219.00,194.50 V210.10 M215.10,194.50 H222.90 M215.10,210.10 H222.90" stroke="#3f68b8" stroke-width="1.00" fill="none"/>
<circle cx="219.00" cy="202.60" r="2.65" fill="#fff" stroke="#3f68b8" stroke-width="1.1"/>
<path d="M301.90,146.40 V159.40 M298.00,146.40 H305.80 M298.00,159.40 H305.80" stroke="#3f68b8" stroke-width="1.00" fill="none"/>
<circle cx="301.90" cy="152.90" r="2.65" fill="#fff" stroke="#3f68b8" stroke-width="1.1"/>
<path d="M385.20,119.10 V127.80 M381.30,119.10 H389.10 M381.30,127.80 H389.10" stroke="#3f68b8" stroke-width="1.00" fill="none"/>
<circle cx="385.20" cy="123.70" r="2.65" fill="#fff" stroke="#3f68b8" stroke-width="1.1"/>
<rect x="77.20" y="242.85" width="6.30" height="6.30" fill="#fff" stroke="#4aa64e" stroke-width="1.1"/>
<path d="M163.60,226.10 V236.50 M159.70,226.10 H167.50 M159.70,236.50 H167.50" stroke="#4aa64e" stroke-width="1.00" fill="none"/>
<rect x="160.45" y="228.05" width="6.30" height="6.30" fill="#fff" stroke="#4aa64e" stroke-width="1.1"/>
<path d="M246.60,166.90 V187.70 M242.70,166.90 H250.50 M242.70,187.70 H250.50" stroke="#4aa64e" stroke-width="1.00" fill="none"/>
<rect x="243.45" y="174.05" width="6.30" height="6.30" fill="#fff" stroke="#4aa64e" stroke-width="1.1"/>
<path d="M329.90,130.90 V143.30 M326.00,130.90 H333.80 M326.00,143.30 H333.80" stroke="#4aa64e" stroke-width="1.00" fill="none"/>
<rect x="326.75" y="134.25" width="6.30" height="6.30" fill="#fff" stroke="#4aa64e" stroke-width="1.1"/>
<path d="M413.00,111.50 V120.60 M409.10,111.50 H416.90 M409.10,120.60 H416.90" stroke="#4aa64e" stroke-width="1.00" fill="none"/>
<rect x="409.85" y="112.85" width="6.30" height="6.30" fill="#fff" stroke="#4aa64e" stroke-width="1.1"/>
<path d="M119.80,242.80 L122.80,248.90 L116.80,248.90 Z" fill="#fff" stroke="#000" stroke-width="1.1"/>
<path d="M161.30,239.70 L164.30,245.80 L158.30,245.80 Z" fill="#fff" stroke="#000" stroke-width="1.1"/>
<path d="M203.20,208.10 V224.20 M200.40,208.10 H206.00 M200.40,224.20 H206.00" stroke="#000" stroke-width="1.00" fill="none"/>
<path d="M203.20,213.40 L206.20,219.50 L200.20,219.50 Z" fill="#fff" stroke="#000" stroke-width="1.1"/>
<path d="M244.60,166.10 L247.60,172.20 L241.60,172.20 Z" fill="#fff" stroke="#000" stroke-width="1.1"/>
<path d="M286.30,120.40 V142.20 M283.50,120.40 H289.10 M283.50,142.20 H289.10" stroke="#000" stroke-width="1.00" fill="none"/>
<path d="M286.30,128.40 L289.30,134.50 L283.30,134.50 Z" fill="#fff" stroke="#000" stroke-width="1.1"/>
<path d="M327.90,78.80 V104.30 M325.10,78.80 H330.70 M325.10,104.30 H330.70" stroke="#000" stroke-width="1.00" fill="none"/>
<path d="M327.90,88.30 L330.90,94.40 L324.90,94.40 Z" fill="#fff" stroke="#000" stroke-width="1.1"/>
<path d="M369.50,54.90 V80.40 M366.70,54.90 H372.30 M366.70,80.40 H372.30" stroke="#000" stroke-width="1.00" fill="none"/>
<path d="M369.50,64.70 L372.50,70.80 L366.50,70.80 Z" fill="#fff" stroke="#000" stroke-width="1.1"/>
<path d="M410.90,33.40 V63.00 M408.10,33.40 H413.70 M408.10,63.00 H413.70" stroke="#000" stroke-width="1.00" fill="none"/>
<path d="M410.90,45.70 L413.90,51.80 L407.90,51.80 Z" fill="#fff" stroke="#000" stroke-width="1.1"/>
<path d="M452.30,32.40 V56.00 M449.50,32.40 H455.10 M449.50,56.00 H455.10" stroke="#000" stroke-width="1.00" fill="none"/>
<path d="M452.30,41.70 L455.30,47.80 L449.30,47.80 Z" fill="#fff" stroke="#000" stroke-width="1.1"/>
</g>
<path d="M49.4,23.4 H74.2" stroke="#3f68b8" stroke-width="1.8" stroke-dasharray="3.2 2.9"/>
<circle cx="61.70" cy="23.40" r="2.65" fill="#fff" stroke="#3f68b8" stroke-width="1.1"/>
<path d="M49.5,40.5 H72.6" stroke="#4aa64e" stroke-width="1.6" stroke-dasharray="1.5 1.9"/>
<rect x="58.60" y="37.40" width="6.00" height="6.00" fill="#fff" stroke="#4aa64e" stroke-width="1.1"/>
<path d="M49.2,57.4 H74" stroke="#000" stroke-width="1"/>
<path d="M61.70,53.80 L64.70,59.90 L58.70,59.90 Z" fill="#fff" stroke="#000" stroke-width="1.1"/>
<text x="83.0" y="27.7" font-size="11.85" fill="#000">T1</text>
<text x="83.0" y="44.7" font-size="11.85" fill="#000">T1 &amp; Rosettes</text>
<text x="83.0" y="61.7" font-size="11.85" fill="#000">Collinet et al.</text>
</svg></body></html>
